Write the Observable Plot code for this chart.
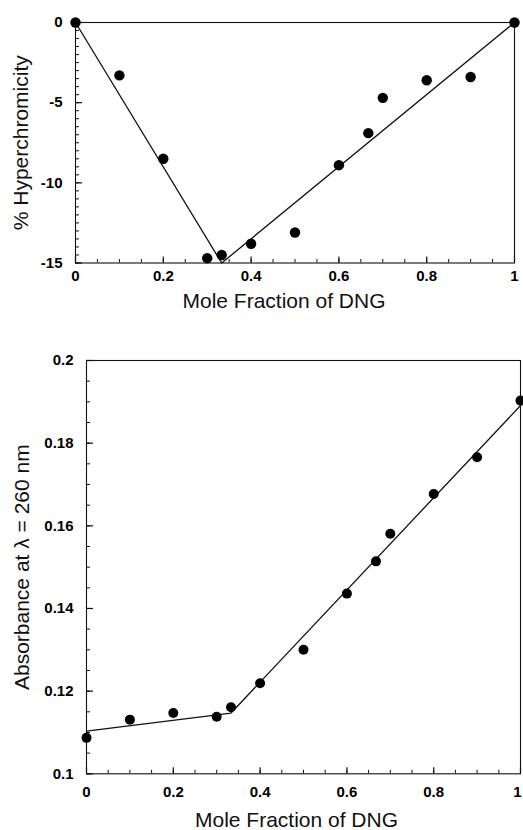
<!DOCTYPE html>
<html>
<head>
<meta charset="utf-8">
<script src="https://cdn.jsdelivr.net/npm/d3@7"></script>
<script src="https://cdn.jsdelivr.net/npm/@observablehq/plot@0.6"></script>
<style>
  html, body { margin: 0; padding: 0; background: #fff; }
  #chart svg { display: block; }
</style>
</head>
<body>
<div id="chart"></div>
<script>
// ---- data ----
const moleFraction = [0, 0.1, 0.2, 0.3, 0.333, 0.4, 0.5, 0.6, 0.667, 0.7, 0.8, 0.9, 1.0];
const hyperchromicity = [0, -3.3, -8.5, -14.7, -14.5, -13.8, -13.1, -8.9, -6.9, -4.7, -3.6, -3.4, 0];
const absorbance = [0.1087, 0.1131, 0.1147, 0.1138, 0.1161, 0.1219, 0.1300, 0.1436, 0.1514, 0.1581, 0.1677, 0.1766, 0.1903];

const hyperFitX = [0, 0.333, 1];
const hyperFitY = [0, -15, 0];
const absFitX = [0, 0.333, 1];
const absFitY = [0.1103, 0.1147, 0.1891];

const xTickValues = [0, 0.2, 0.4, 0.6, 0.8, 1];
const xTickLabels = ["0", "0.2", "0.4", "0.6", "0.8", "1"];
const hyperTickValues = [0, -5, -10, -15];
const hyperTickLabels = ["0", "-5", "-10", "-15"];
const absTickValues = [0.1, 0.12, 0.14, 0.16, 0.18, 0.2];
const absTickLabels = ["0.1", "0.12", "0.14", "0.16", "0.18", "0.2"];

const xMinorTicks = d3.range(0, 21).map(i => +(i * 0.05).toFixed(2));
const hyperMinorTicks = d3.range(0, 31).map(i => -i * 0.5);
const absMinorTicks = d3.range(0, 21).map(i => +(0.1 + i * 0.005).toFixed(3));

const xTitle = "Mole Fraction of DNG";
const hyperTitle = "% Hyperchromicity";
const absTitle = "Absorbance at \u03BB = 260 nm";

const FONT = "'Liberation Sans', Arial, Helvetica, sans-serif";

function panel(o) {
  const pts = moleFraction.map((x, i) => ({x, y: o.ys[i]}));
  const fit = o.fitX.map((x, i) => ({x, y: o.fitY[i]}));
  const fmt = (vals, labs) => d => { const k = vals.findIndex(v => Math.abs(v - d) < 1e-9); return k >= 0 ? labs[k] : ""; };
  const frameW = 523 - o.marginLeft - o.marginRight;
  const frameH = o.height - o.marginTop - o.marginBottom;
  const xInner = xTickValues.slice(0, -1);
  const xLast = xTickValues.slice(-1);
  return Plot.plot({
    width: 523,
    height: o.height,
    marginTop: o.marginTop,
    marginBottom: o.marginBottom,
    marginLeft: o.marginLeft,
    marginRight: o.marginRight,
    style: {fontFamily: FONT, fontSize: "15px", fontWeight: "bold", color: "black", background: "white", overflow: "visible"},
    x: {domain: [0, 1], label: null, axis: null},
    y: {domain: o.yDomain, label: null, axis: null},
    marks: [
      Plot.frame({stroke: "#111", strokeWidth: 1.1}),
      // inward minor and major ticks
      Plot.tickX(xMinorTicks, {x: d => d, insetTop: frameH - 3.5, stroke: "#111", strokeWidth: 1}),
      Plot.tickX(xTickValues, {x: d => d, insetTop: frameH - 6, stroke: "#111", strokeWidth: 1.2}),
      Plot.tickY(o.yMinor, {y: d => d, insetRight: frameW - 4, stroke: "#111", strokeWidth: 1}),
      Plot.tickY(o.yTicks, {y: d => d, insetRight: frameW - 7, stroke: "#111", strokeWidth: 1.2}),
      // tick labels
      Plot.axisX({ticks: xInner, tickSize: 0, tickPadding: o.xTickPad, tickFormat: fmt(xTickValues, xTickLabels), label: null}),
      Plot.axisX({ticks: xLast, tickSize: 0, tickPadding: o.xTickPad, tickFormat: fmt(xTickValues, xTickLabels), label: null, dx: o.lastDx}),
      Plot.axisY({ticks: o.yTicks, tickSize: 0, tickPadding: 13, tickFormat: fmt(o.yTicks, o.yTickLabels), label: null}),
      // fitted lines and data
      Plot.line(fit, {x: "x", y: "y", stroke: "#111", strokeWidth: 1.3}),
      Plot.dot(pts, {x: "x", y: "y", r: o.r, fill: "black", stroke: "none"}),
      // axis titles
      Plot.text([xTitle], {text: d => d, frameAnchor: "bottom", dy: o.xTitleDy, dx: o.xTitleDx, lineAnchor: "middle", textAnchor: "middle", fontSize: 21, fontWeight: "normal", fill: "#111"}),
      Plot.text([o.yTitle], {text: d => d, frameAnchor: "left", rotate: -90, dx: o.yTitleDx, lineAnchor: "middle", textAnchor: "middle", fontSize: 21, fontWeight: "normal", fill: "#111"})
    ]
  });
}

const topPanel = panel({
  height: 312, marginTop: 22, marginBottom: 49.5, marginLeft: 75, marginRight: 9,
  yDomain: [-15, 0], yTicks: hyperTickValues, yTickLabels: hyperTickLabels, yMinor: hyperMinorTicks,
  ys: hyperchromicity, fitX: hyperFitX, fitY: hyperFitY,
  xTickPad: 7, xTitleDy: 38, xTitleDx: -11, yTitle: hyperTitle, yTitleDx: -54, r: 5.2, lastDx: 0
});

const bottomPanel = panel({
  height: 518, marginTop: 48, marginBottom: 56.7, marginLeft: 86, marginRight: 3,
  yDomain: [0.1, 0.2], yTicks: absTickValues, yTickLabels: absTickLabels, yMinor: absMinorTicks,
  ys: absorbance, fitX: absFitX, fitY: absFitY,
  xTickPad: 13, xTitleDy: 46, xTitleDx: -7, yTitle: absTitle, yTitleDx: -64, r: 5, lastDx: -3
});

const chart = document.getElementById("chart");
chart.appendChild(topPanel);
chart.appendChild(bottomPanel);
</script>
</body>
</html>
